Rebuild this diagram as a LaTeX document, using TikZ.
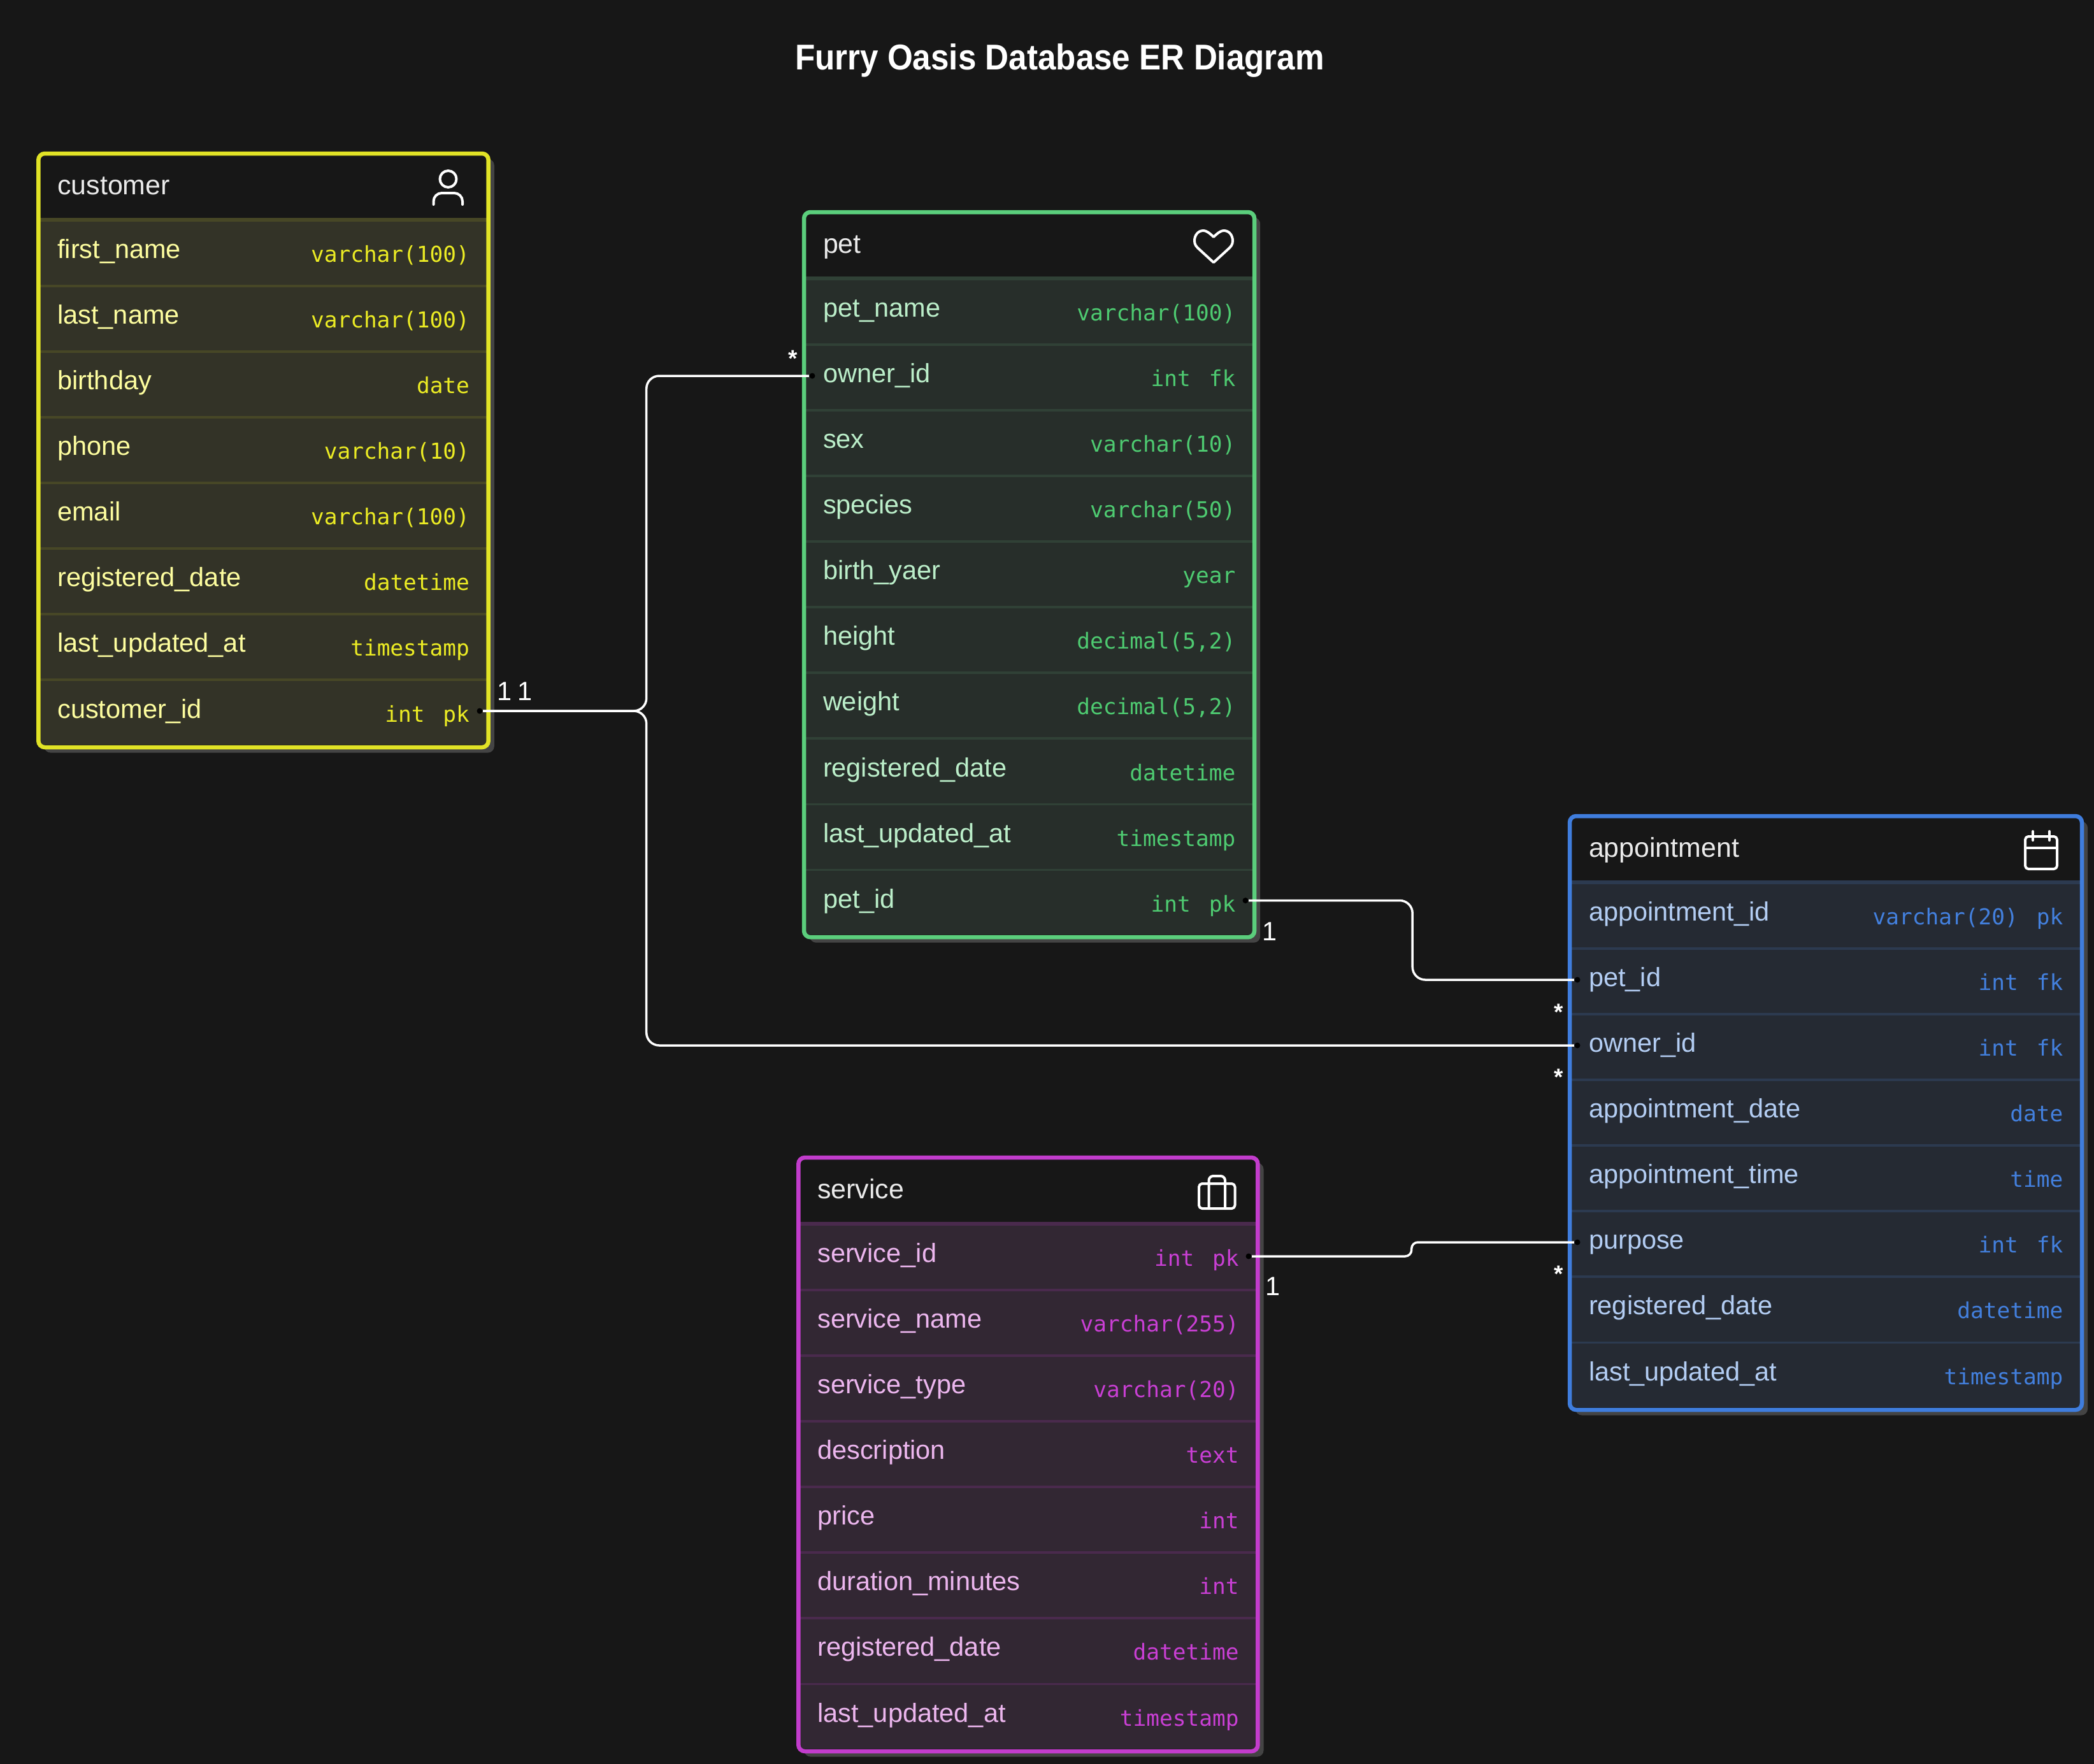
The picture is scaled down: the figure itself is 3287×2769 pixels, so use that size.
\documentclass[tikz,border=0pt]{standalone}
\usepackage{fontspec}
\setmainfont{Liberation Sans}
\setmonofont{DejaVu Sans Mono}
\newfontfamily\titlefont[FakeStretch=0.91]{Liberation Sans}
\usetikzlibrary{positioning,shadows}
\definecolor{canvas}{HTML}{171717}
\definecolor{shade}{HTML}{444444}
\definecolor{headtext}{HTML}{EAEAEA}
\definecolor{custframe}{HTML}{E1E326}
\definecolor{custfill}{HTML}{333327}
\definecolor{custline}{HTML}{474726}
\definecolor{custtext}{HTML}{FDFD9F}
\definecolor{custtype}{HTML}{ECEC24}
\definecolor{petframe}{HTML}{5BCE7C}
\definecolor{petfill}{HTML}{272E2A}
\definecolor{petline}{HTML}{304136}
\definecolor{pettext}{HTML}{BBEEC9}
\definecolor{pettype}{HTML}{4ECB71}
\definecolor{apptframe}{HTML}{3F7DDD}
\definecolor{apptfill}{HTML}{252A33}
\definecolor{apptline}{HTML}{2C3A50}
\definecolor{appttext}{HTML}{B3CDF3}
\definecolor{appttype}{HTML}{4380DE}
\definecolor{servframe}{HTML}{C23CCC}
\definecolor{servfill}{HTML}{322733}
\definecolor{servline}{HTML}{4A2A4D}
\definecolor{servtext}{HTML}{ECB6EE}
\definecolor{servtype}{HTML}{C93FD4}
\newcommand{\keygap}{\hspace{0.84em}}
\tikzstyle{tablebox} = [rectangle, rounded corners=0.1cm, anchor=north west, inner sep=0pt, outer sep=0pt, fill=canvas, drop shadow={shadow xshift=0.091cm, shadow yshift=-0.085cm, fill=shade, opacity=1}]
\tikzstyle{frame} = [line width=0.065cm, rounded corners=0.1cm]
\tikzstyle{rowrule} = [line width=0.06cm]
\tikzstyle{headrule} = [line width=0.025cm]
\tikzstyle{cell} = [rectangle, inner xsep=0.3cm, inner ysep=0pt, outer sep=0pt, align=left]
\tikzstyle{head} = [cell, anchor=north, minimum height=1.035cm, text height=0.37cm, text depth=0.11cm, text=headtext, font=\fontsize{12.2pt}{14pt}\selectfont]
\tikzstyle{row} = [cell, minimum height=1.03cm, text height=0.31cm, text depth=0.12cm, font=\fontsize{11.8pt}{14pt}\selectfont]
\tikzstyle{custrow} = [row, fill=custfill, text=custtext, text width=6.46cm, path picture={\draw[rowrule, custline] (path picture bounding box.north west) -- (path picture bounding box.north east);}]
\tikzstyle{petrow} = [row, fill=petfill, text=pettext, text width=6.467cm, path picture={\draw[rowrule, petline] (path picture bounding box.north west) -- (path picture bounding box.north east);}]
\tikzstyle{apptrow} = [row, fill=apptfill, text=appttext, text width=7.435cm, path picture={\draw[rowrule, apptline] (path picture bounding box.north west) -- (path picture bounding box.north east);}]
\tikzstyle{servrow} = [row, fill=servfill, text=servtext, text width=6.607cm, path picture={\draw[rowrule, servline] (path picture bounding box.north west) -- (path picture bounding box.north east);}]
\tikzstyle{typetext} = [anchor=base east, inner sep=0pt, xshift=-0.29cm, yshift=-0.06cm, font=\ttfamily\fontsize{9.8pt}{12pt}\selectfont]
\tikzstyle{icon} = [draw=white, line width=0.04cm, line cap=round, line join=round]
\tikzstyle{dot} = [circle, fill=black, inner sep=0pt, minimum size=0.09cm]
\tikzstyle{link} = [draw=white, line width=0.035cm, rounded corners=0.2cm]
\tikzstyle{card} = [text=white, inner sep=0pt, font=\fontsize{11.8pt}{14pt}\selectfont]
\tikzstyle{many} = [card, anchor=base, font=\bfseries\fontsize{10.5pt}{12pt}\selectfont]

\begin{document}
\begin{tikzpicture}[x=0.01cm, y=-0.01cm]

	\fill [canvas] (0,0) rectangle (3287,2769);
	\node (title) [text=white, anchor=base, inner sep=0pt, font=\titlefont\bfseries\fontsize{16pt}{18pt}\selectfont] at (1663.5,109) {Furry Oasis Database ER Diagram};

	% customer
	\node (cust_box) [tablebox, minimum width=7.06cm, minimum height=9.315cm] at (60.3,241) {};
	\node (cust_head) [head, text width=6.46cm] at (cust_box.north) {customer};
	\node (cust_first) [custrow, below=0pt of cust_head] {first\_name};
	\node (cust_last) [custrow, below=0pt of cust_first] {last\_name};
	\node (cust_birthday) [custrow, below=0pt of cust_last] {birthday};
	\node (cust_phone) [custrow, below=0pt of cust_birthday] {phone};
	\node (cust_email) [custrow, below=0pt of cust_phone] {email};
	\node (cust_registered) [custrow, below=0pt of cust_email] {registered\_date};
	\node (cust_updated) [custrow, below=0pt of cust_registered] {last\_updated\_at};
	\node (cust_id) [custrow, below=0pt of cust_updated] {customer\_id};
	\node (cust_first_type) [typetext, text=custtype] at (cust_first.base east) {varchar(100)};
	\node (cust_last_type) [typetext, text=custtype] at (cust_last.base east) {varchar(100)};
	\node (cust_birthday_type) [typetext, text=custtype] at (cust_birthday.base east) {date};
	\node (cust_phone_type) [typetext, text=custtype] at (cust_phone.base east) {varchar(10)};
	\node (cust_email_type) [typetext, text=custtype] at (cust_email.base east) {varchar(100)};
	\node (cust_registered_type) [typetext, text=custtype] at (cust_registered.base east) {datetime};
	\node (cust_updated_type) [typetext, text=custtype] at (cust_updated.base east) {timestamp};
	\node (cust_id_type) [typetext, text=custtype] at (cust_id.base east) {int\keygap pk};
	\draw [headrule, custline] ([yshift=0.0125cm]cust_head.south west) -- ([yshift=0.0125cm]cust_head.south east);
	\draw [frame, custframe] (cust_box.north west) rectangle (cust_box.south east);
	\draw [icon] (703.5,281) circle [radius=13];
	\draw [icon, rounded corners=0.13cm] (680.5,321) |- (726,303) -- (726,321);

	% pet
	\node (pet_box) [tablebox, minimum width=7.067cm, minimum height=11.375cm] at (1262,333) {};
	\node (pet_head) [head, text width=6.467cm] at (pet_box.north) {pet};
	\node (pet_name) [petrow, below=0pt of pet_head] {pet\_name};
	\node (pet_owner) [petrow, below=0pt of pet_name] {owner\_id};
	\node (pet_sex) [petrow, below=0pt of pet_owner] {sex};
	\node (pet_species) [petrow, below=0pt of pet_sex] {species};
	\node (pet_birth) [petrow, below=0pt of pet_species] {birth\_yaer};
	\node (pet_height) [petrow, below=0pt of pet_birth] {height};
	\node (pet_weight) [petrow, below=0pt of pet_height] {weight};
	\node (pet_registered) [petrow, below=0pt of pet_weight] {registered\_date};
	\node (pet_updated) [petrow, below=0pt of pet_registered] {last\_updated\_at};
	\node (pet_id) [petrow, below=0pt of pet_updated] {pet\_id};
	\node (pet_name_type) [typetext, text=pettype] at (pet_name.base east) {varchar(100)};
	\node (pet_owner_type) [typetext, text=pettype] at (pet_owner.base east) {int\keygap fk};
	\node (pet_sex_type) [typetext, text=pettype] at (pet_sex.base east) {varchar(10)};
	\node (pet_species_type) [typetext, text=pettype] at (pet_species.base east) {varchar(50)};
	\node (pet_birth_type) [typetext, text=pettype] at (pet_birth.base east) {year};
	\node (pet_height_type) [typetext, text=pettype] at (pet_height.base east) {decimal(5,2)};
	\node (pet_weight_type) [typetext, text=pettype] at (pet_weight.base east) {decimal(5,2)};
	\node (pet_registered_type) [typetext, text=pettype] at (pet_registered.base east) {datetime};
	\node (pet_updated_type) [typetext, text=pettype] at (pet_updated.base east) {timestamp};
	\node (pet_id_type) [typetext, text=pettype] at (pet_id.base east) {int\keygap pk};
	\draw [headrule, petline] ([yshift=0.0125cm]pet_head.south west) -- ([yshift=0.0125cm]pet_head.south east);
	\draw [frame, petframe] (pet_box.north west) rectangle (pet_box.south east);
	\draw [icon] (1905,372) .. controls (1898,365) and (1893,362) .. (1889,362) .. controls (1880,362) and (1875,370) .. (1875,378) .. controls (1875,384) and (1878,387) .. (1881,390) -- (1905,412) -- (1929,390) .. controls (1932,387) and (1935,384) .. (1935,378) .. controls (1935,370) and (1930,362) .. (1921,362) .. controls (1917,362) and (1912,365) .. cycle;

	% appointment
	\node (appt_box) [tablebox, minimum width=8.035cm, minimum height=9.315cm] at (2464,1281) {};
	\node (appt_head) [head, text width=7.435cm] at (appt_box.north) {appointment};
	\node (appt_id) [apptrow, below=0pt of appt_head] {appointment\_id};
	\node (appt_pet) [apptrow, below=0pt of appt_id] {pet\_id};
	\node (appt_owner) [apptrow, below=0pt of appt_pet] {owner\_id};
	\node (appt_date) [apptrow, below=0pt of appt_owner] {appointment\_date};
	\node (appt_time) [apptrow, below=0pt of appt_date] {appointment\_time};
	\node (appt_purpose) [apptrow, below=0pt of appt_time] {purpose};
	\node (appt_registered) [apptrow, below=0pt of appt_purpose] {registered\_date};
	\node (appt_updated) [apptrow, below=0pt of appt_registered] {last\_updated\_at};
	\node (appt_id_type) [typetext, text=appttype] at (appt_id.base east) {varchar(20)\keygap pk};
	\node (appt_pet_type) [typetext, text=appttype] at (appt_pet.base east) {int\keygap fk};
	\node (appt_owner_type) [typetext, text=appttype] at (appt_owner.base east) {int\keygap fk};
	\node (appt_date_type) [typetext, text=appttype] at (appt_date.base east) {date};
	\node (appt_time_type) [typetext, text=appttype] at (appt_time.base east) {time};
	\node (appt_purpose_type) [typetext, text=appttype] at (appt_purpose.base east) {int\keygap fk};
	\node (appt_registered_type) [typetext, text=appttype] at (appt_registered.base east) {datetime};
	\node (appt_updated_type) [typetext, text=appttype] at (appt_updated.base east) {timestamp};
	\draw [headrule, apptline] ([yshift=0.0125cm]appt_head.south west) -- ([yshift=0.0125cm]appt_head.south east);
	\draw [frame, apptframe] (appt_box.north west) rectangle (appt_box.south east);
	\draw [icon, rounded corners=0.05cm] (3179,1313) rectangle (3229,1364);
	\draw [icon] (3179,1331) -- (3229,1331);
	\draw [icon] (3191,1305) -- (3191,1319);
	\draw [icon] (3217,1305) -- (3217,1319);

	% service
	\node (serv_box) [tablebox, minimum width=7.207cm, minimum height=9.315cm] at (1253.3,1817) {};
	\node (serv_head) [head, text width=6.607cm] at (serv_box.north) {service};
	\node (serv_id) [servrow, below=0pt of serv_head] {service\_id};
	\node (serv_name) [servrow, below=0pt of serv_id] {service\_name};
	\node (serv_type) [servrow, below=0pt of serv_name] {service\_type};
	\node (serv_description) [servrow, below=0pt of serv_type] {description};
	\node (serv_price) [servrow, below=0pt of serv_description] {price};
	\node (serv_duration) [servrow, below=0pt of serv_price] {duration\_minutes};
	\node (serv_registered) [servrow, below=0pt of serv_duration] {registered\_date};
	\node (serv_updated) [servrow, below=0pt of serv_registered] {last\_updated\_at};
	\node (serv_id_type) [typetext, text=servtype] at (serv_id.base east) {int\keygap pk};
	\node (serv_name_type) [typetext, text=servtype] at (serv_name.base east) {varchar(255)};
	\node (serv_type_type) [typetext, text=servtype] at (serv_type.base east) {varchar(20)};
	\node (serv_description_type) [typetext, text=servtype] at (serv_description.base east) {text};
	\node (serv_price_type) [typetext, text=servtype] at (serv_price.base east) {int};
	\node (serv_duration_type) [typetext, text=servtype] at (serv_duration.base east) {int};
	\node (serv_registered_type) [typetext, text=servtype] at (serv_registered.base east) {datetime};
	\node (serv_updated_type) [typetext, text=servtype] at (serv_updated.base east) {timestamp};
	\draw [headrule, servline] ([yshift=0.0125cm]serv_head.south west) -- ([yshift=0.0125cm]serv_head.south east);
	\draw [frame, servframe] (serv_box.north west) rectangle (serv_box.south east);
	\draw [icon, rounded corners=0.05cm] (1882,1858) rectangle (1938.5,1897);
	\draw [icon, rounded corners=0.07cm] (1897.5,1897) |- (1923,1846) -- (1923,1897);

	% Dots
	\node (cust_dot) [dot] at (753,1116) {};
	\node (pet_owner_dot) [dot] at (1275,590) {};
	\node (pet_dot) [dot] at (1955,1413.5) {};
	\node (appt_pet_dot) [dot] at (2476,1538) {};
	\node (appt_owner_dot) [dot] at (2476,1641) {};
	\node (appt_purpose_dot) [dot] at (2476,1950) {};
	\node (serv_dot) [dot] at (1960,1972) {};

	% Arrows
	\draw [link] (cust_dot.east) -- ++(256.5,0) |- (pet_owner_dot.west);
	\draw [link] (cust_dot.east) -- ++(256.5,0) |- (appt_owner_dot.west);
	\draw [link] (pet_dot.east) -- ++(257,0) |- (appt_pet_dot.west);
	\draw [link, rounded corners=0.1cm] (serv_dot.east) -- ++(250.5,0) |- (appt_purpose_dot.west);

	% Cardinalities
	\node (card_cust_a) [card] at (792,1085) {1};
	\node (card_cust_b) [card] at (824,1085) {1};
	\node (card_pet) [card] at (1993,1462) {1};
	\node (card_serv) [card] at (1998,2019) {1};
	\node (many_pet) [many] at (1245,575) {*};
	\node (many_appt_pet) [many] at (2447,1601) {*};
	\node (many_appt_owner) [many] at (2447,1703) {*};
	\node (many_appt_purpose) [many] at (2447,2012) {*};
\end{tikzpicture}
\end{document}
